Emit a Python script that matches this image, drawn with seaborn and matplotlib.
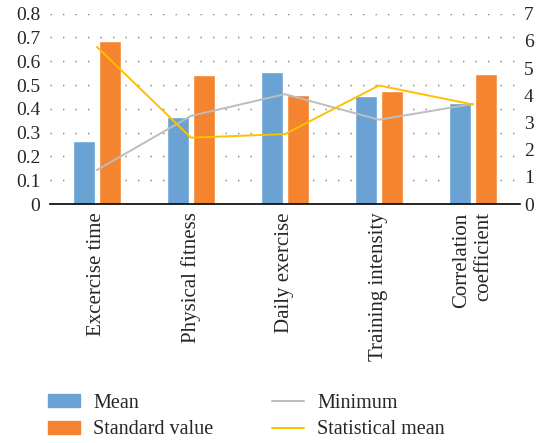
import numpy as np
import pandas as pd
import seaborn as sns
import matplotlib.pyplot as plt
from matplotlib.patches import Patch
from matplotlib.lines import Line2D

# values
categories = ["Excercise time", "Physical fitness", "Daily exercise",
              "Training intensity", "Correlation\ncoefficient"]
mean_vals = [0.265, 0.366, 0.556, 0.454, 0.424]
standard_vals = [0.685, 0.542, 0.458, 0.476, 0.546]
minimum_vals = [1.25, 3.24, 4.04, 3.10, 3.68]
stat_mean_vals = [5.78, 2.44, 2.57, 4.36, 3.66]

blue = "#6aa2d4"
orange = "#f4842f"
grey = "#bdbdbd"
yellow = "#ffc000"

df = pd.DataFrame({
    "category": categories * 2,
    "value": mean_vals + standard_vals,
    "series": ["Mean"] * 5 + ["Standard value"] * 5,
})

sns.set_style("white")
plt.rcParams["font.family"] = ["Liberation Serif", "DejaVu Serif"]

fig = plt.figure(figsize=(5.49, 4.43), dpi=100)
ax = fig.add_axes([0.091, 0.5395, 0.856, 0.4296])

sns.barplot(data=df, x="category", y="value", hue="series",
            palette=[blue, orange], width=0.55, gap=0.15,
            saturation=1, legend=False, ax=ax)
ax.set_ylim(0, 0.8)
ax.set_xlim(-0.5, len(categories) - 0.5)
ax.set_yticks(np.arange(0, 0.81, 0.1))
ax.set_yticklabels(["0"] + [f"{v:.1f}" for v in np.arange(0.1, 0.81, 0.1)])
ax.yaxis.grid(True, color="#7f7f7f", linestyle=(0, (1, 8)), linewidth=1)
ax.set_axisbelow(True)
ax.set_xlabel("")
ax.set_ylabel("")
for s in ["top", "left", "right"]:
    ax.spines[s].set_visible(False)
ax.spines["bottom"].set_color("black")
ax.spines["bottom"].set_linewidth(1.2)
ax.tick_params(axis="y", length=0, pad=7, labelsize=14)
ax.tick_params(axis="x", length=0, pad=6, labelsize=15)
for lbl in ax.get_xticklabels():
    lbl.set_rotation(90)
    lbl.set_multialignment("right")

ax2 = ax.twinx()
xpos = np.arange(len(categories))
sns.lineplot(x=xpos, y=minimum_vals, color=grey, linewidth=1.4, ax=ax2)
sns.lineplot(x=xpos, y=stat_mean_vals, color=yellow, linewidth=1.4, ax=ax2)
ax2.set_ylim(0, 7)
ax2.set_yticks(range(0, 8))
ax2.tick_params(axis="y", length=0, pad=3, labelsize=14)
for s in ["top", "left", "right", "bottom"]:
    ax2.spines[s].set_visible(False)
ax2.set_ylabel("")

handles = [Patch(color=blue), Patch(color=orange),
           Line2D([], [], color=grey, linewidth=1.4),
           Line2D([], [], color=yellow, linewidth=1.4)]
labels = ["Mean", "Standard value", "Minimum", "Statistical mean"]
fig.legend(handles, labels, ncol=2, frameon=False, fontsize=14.5,
           loc="lower left", bbox_to_anchor=(48 / 549, 0.008),
           borderpad=0, borderaxespad=0,
           handlelength=1.6, handleheight=0.65, columnspacing=2.9,
           labelspacing=0.38, handletextpad=0.65)

fig.savefig("out.png", dpi=100)
